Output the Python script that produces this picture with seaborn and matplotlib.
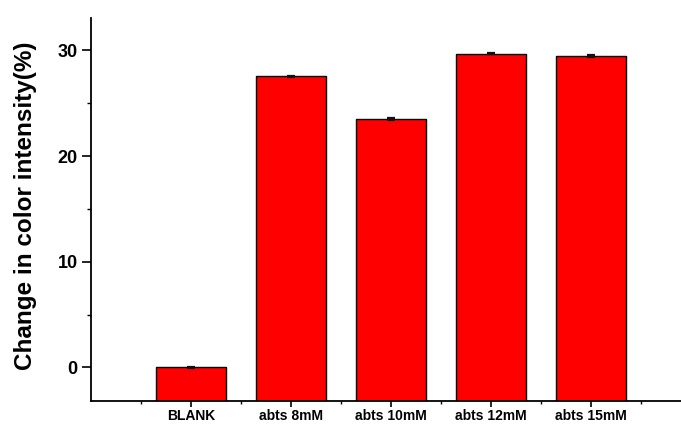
import matplotlib
matplotlib.use("Agg")
import matplotlib.pyplot as plt
from matplotlib.ticker import FixedLocator, MultipleLocator
import seaborn as sns
import pandas as pd

# Measured change in colour intensity for each ABTS concentration
categories = ["BLANK", "abts 8mM", "abts 10mM", "abts 12mM", "abts 15mM"]
change = [0.0, 27.55, 23.52, 29.68, 29.45]
error = [0.03, 0.05, 0.08, 0.04, 0.08]
y_ticks = [0, 10, 20, 30]

df = pd.DataFrame({"sample": categories, "change": change, "err": error})

sns.set_theme(style="ticks")
plt.rcParams["font.family"] = ["Liberation Sans", "DejaVu Sans"]
plt.rcParams["font.weight"] = "bold"

fig = plt.figure(figsize=(6.81, 4.24), dpi=100)
ax = fig.add_axes([91 / 681, 1 - 401 / 424, 1 - 91 / 681, (401 - 18) / 424])

y_min, y_max = -3.17, 33.07

sns.barplot(data=df, x="sample", y="change", order=categories,
            color="#ff0000", saturation=1, width=0.7,
            edgecolor="black", linewidth=1.0, errorbar=None, ax=ax)
# Bars rise from the bottom of the value axis rather than from zero
for patch, value in zip(ax.patches, change):
    patch.set_y(y_min)
    patch.set_height(value - y_min)

ax.errorbar(df["sample"], df["change"], yerr=df["err"], fmt="none",
            ecolor="#111111", elinewidth=1.0, capsize=3.2, capthick=1.6,
            zorder=5)

ax.set_xlim(-1, 4.9)
ax.set_ylim(y_min, y_max)
ax.yaxis.set_major_locator(FixedLocator(y_ticks))
ax.yaxis.set_minor_locator(MultipleLocator(5))
ax.xaxis.set_minor_locator(FixedLocator([i - 0.5 for i in range(len(categories) + 1)]))

for side in ("top", "right"):
    ax.spines[side].set_visible(False)
for side in ("left", "bottom"):
    ax.spines[side].set_linewidth(1.3)
    ax.spines[side].set_color("black")
    ax.spines[side].set_zorder(6)

ax.tick_params(axis="y", which="major", length=6.5, width=1.2, pad=3,
               labelsize=13, colors="black", direction="out")
ax.tick_params(axis="y", which="minor", length=3, width=1.0,
               colors="black", direction="out")
ax.tick_params(axis="x", which="major", length=4.5, width=1.2, pad=1.5,
               labelsize=10, colors="black", direction="out")
ax.tick_params(axis="x", which="minor", length=2.5, width=1.0,
               colors="black", direction="out")
for lab in ax.get_xticklabels() + ax.get_yticklabels():
    lab.set_fontweight("bold")

ax.set_xlabel("")
ax.set_ylabel("Change in color intensity(%)", fontsize=17.5,
              fontweight="bold", color="black")
ax.yaxis.set_label_coords(-0.0915, 0.509)

fig.savefig("out.png", dpi=100)
